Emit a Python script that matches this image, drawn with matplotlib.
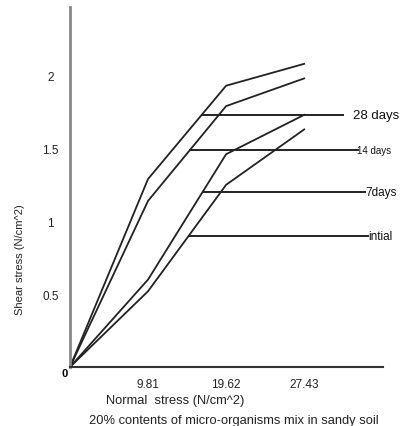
import numpy as np
import matplotlib
matplotlib.use('Agg')
import matplotlib.pyplot as plt

plt.rcParams['font.family'] = ['Liberation Sans', 'DejaVu Sans']

# normal stress categories (first point is the origin)
normal_stress = ['0', '9.81', '19.62', '27.43']
tick_labels = ['9.81', '19.62', '27.43']

# shear stress (N/cm^2)
days_28 = [0, 1.29, 1.93, 2.08]
days_14 = [0, 1.14, 1.79, 1.98]
days_7 = [0, 0.60, 1.46, 1.73]
initial = [0, 0.52, 1.25, 1.63]

curve_names = ['28 days', '14 days', '7days', 'intial']
label_levels = [1.73, 1.49, 1.20, 0.90]

x = np.arange(len(normal_stress))

fig = plt.figure(figsize=(4.02, 4.27), dpi=100)
ax = fig.add_axes([70 / 402, 59 / 427, 313 / 402, 360 / 427])

curves = [days_28, days_14, days_7, initial]
for c in curves:
    ax.plot(x, c, color='#222222', lw=1.3)

# leader lines from each curve out to its label
line_ends = [3.5, 3.69, 3.78, 3.82]
text_x = [3.62, 3.68, 3.78, 3.82]
text_sizes = [9.5, 7, 8.5, 8.5]
for c, name, lev, xe, tx, fs in zip(curves, curve_names, label_levels,
                                    line_ends, text_x, text_sizes):
    xs = np.interp(lev, c, x)
    ax.plot([xs, xe], [lev, lev], color='#222222', lw=1.4)
    ax.text(tx, lev, name, fontsize=fs, va='center', ha='left', color='#111111')

ax.set_xlim(0, 4.01)
ax.set_ylim(0, 2.47)

ax.set_xticks(x[1:])
ax.set_xticklabels(tick_labels)
ax.set_yticks([0.5, 1, 1.5, 2])
ax.set_yticklabels(['0.5', '1', '1.5', '2'])
ax.tick_params(axis='both', length=0, labelsize=8.5, colors='#222222')
ax.tick_params(axis='x', pad=8)
ax.tick_params(axis='y', pad=14)
for lab in ax.get_yticklabels():
    lab.set_horizontalalignment('center')

ax.annotate('0', (0, 0), xytext=(-4, -4), textcoords='offset points',
            fontsize=8, fontweight='bold', ha='center', va='center')

for s in ['top', 'right']:
    ax.spines[s].set_visible(False)
ax.spines['left'].set_color('#888888')
ax.spines['left'].set_linewidth(2)
ax.spines['bottom'].set_color('#333333')
ax.spines['bottom'].set_linewidth(1.5)

fig.text(20 / 402, 1 - 260 / 427, 'Shear stress (N/cm^2)', rotation=90,
         fontsize=8, ha='center', va='center', color='#222222')
fig.text(175 / 402, 1 - 401 / 427, 'Normal  stress (N/cm^2)',
         fontsize=9.3, ha='center', va='center', color='#222222')
fig.text(234 / 402, 1 - 421 / 427,
         '20% contents of micro-organisms mix in sandy soil',
         fontsize=9.3, ha='center', va='center', color='#222222')

fig.savefig('out.png', dpi=100)
